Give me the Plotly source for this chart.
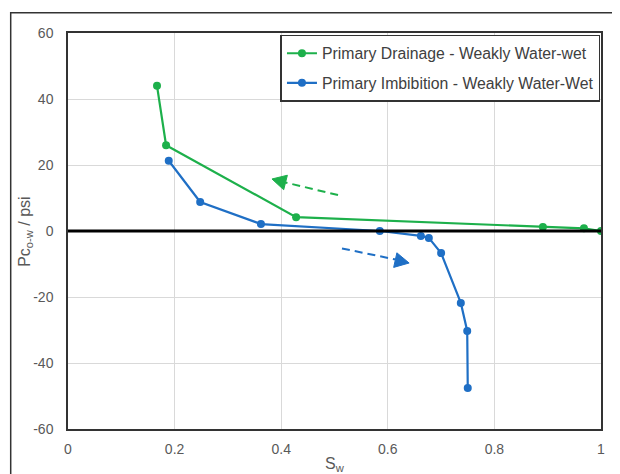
import plotly.graph_objects as go

drain_sw = [0.167, 0.184, 0.428, 0.891, 0.968, 1.0]
drain_pc = [44.0, 26.0, 4.2, 1.2, 0.8, 0.0]
imb_sw = [0.189, 0.248, 0.362, 0.585, 0.662, 0.677, 0.700, 0.737, 0.749, 0.750]
imb_pc = [21.3, 8.8, 2.1, 0.0, -1.5, -2.1, -6.7, -21.8, -30.3, -47.6]
x_ticks = [0, 0.2, 0.4, 0.6, 0.8, 1.0]
x_tick_labels = ["0", "0.2", "0.4", "0.6", "0.8", "1"]
y_ticks = [-60, -40, -20, 0, 20, 40, 60]
y_tick_labels = ["-60", "-40", "-20", "0", "20", "40", "60"]

green = "#1DB04B"
blue = "#1F6FC5"
font = "Liberation Sans, Arial, sans-serif"

fig = go.Figure()
fig.add_trace(go.Scatter(x=drain_sw, y=drain_pc, mode="lines+markers",
                         name="Primary Drainage - Weakly Water-wet", legendgroup="a",
                         line=dict(color=green, width=2.2),
                         marker=dict(color=green, size=8)))
fig.add_trace(go.Scatter(x=imb_sw, y=imb_pc, mode="lines+markers",
                         name="Primary Imbibition - Weakly Water-Wet", legendgroup="b",
                         line=dict(color=blue, width=2.2),
                         marker=dict(color=blue, size=8)))

# zero line
fig.add_shape(type="line", x0=0, x1=1, y0=0, y1=0, xref="x", yref="y",
              line=dict(color="black", width=3), layer="above")

# dashed arrows (direction indicators)
fig.add_shape(type="line", x0=0.5066, y0=10.9, x1=0.408, y1=14.7,
              line=dict(color=green, width=2, dash="8px,5px"))
fig.add_shape(type="path", path="M 0.3827 15.76 L 0.4116 16.9 L 0.4047 12.5 Z",
              fillcolor=green, line=dict(color=green, width=1))
fig.add_shape(type="line", x0=0.514, y0=-5.3, x1=0.615, y1=-8.64,
              line=dict(color=blue, width=2, dash="8px,5px"))
fig.add_shape(type="path", path="M 0.640 -9.70 L 0.611 -11.03 L 0.617 -6.61 Z",
              fillcolor=blue, line=dict(color=blue, width=1))

# outer chart border
fig.add_shape(type="rect", xref="paper", yref="paper",
              x0=-0.1075, y0=-0.16, x1=1.06, y1=1.0513,
              line=dict(color="#333333", width=1.5))

# axis titles
fig.add_annotation(text="S<sub>w</sub>", xref="paper", yref="paper",
                   x=0.5, y=-0.09, xanchor="center", yanchor="middle",
                   showarrow=False, font=dict(size=16, color="#595959"))
fig.add_annotation(text="Pc<sub>o-w</sub> / psi", xref="paper", yref="paper",
                   x=-0.081, y=0.5, xanchor="center", yanchor="middle", textangle=-90,
                   showarrow=False, font=dict(size=16, color="#595959"))

fig.update_layout(
    width=612, height=466,
    margin=dict(l=60, r=19, t=25, b=45),
    paper_bgcolor="white", plot_bgcolor="white",
    font=dict(family=font, color="#595959", size=14),
    showlegend=True,
    legend=dict(x=0.999, y=0.995, xanchor="right", yanchor="top",
                bgcolor="white", bordercolor="#333333", borderwidth=1.5,
                font=dict(size=15.8, color="#404040"), tracegroupgap=6,
                itemwidth=30),
    xaxis=dict(range=[0, 1], showgrid=True, automargin=False,
               gridcolor="#d9d9d9", gridwidth=1, zeroline=False,
               showline=True, linecolor="#333333", linewidth=1.5, mirror=True,
               ticks="", tickvals=x_ticks, ticktext=x_tick_labels,
               ticklabelstandoff=6, tickfont=dict(size=14, color="#595959")),
    yaxis=dict(range=[-60, 60], showgrid=True, automargin=False,
               gridcolor="#d9d9d9", gridwidth=1, zeroline=False,
               showline=True, linecolor="#333333", linewidth=1.5, mirror=True,
               ticks="", tickvals=y_ticks, ticktext=y_tick_labels,
               ticklabelstandoff=10, tickfont=dict(size=14, color="#595959")),
)

fig.write_html("out.html")
